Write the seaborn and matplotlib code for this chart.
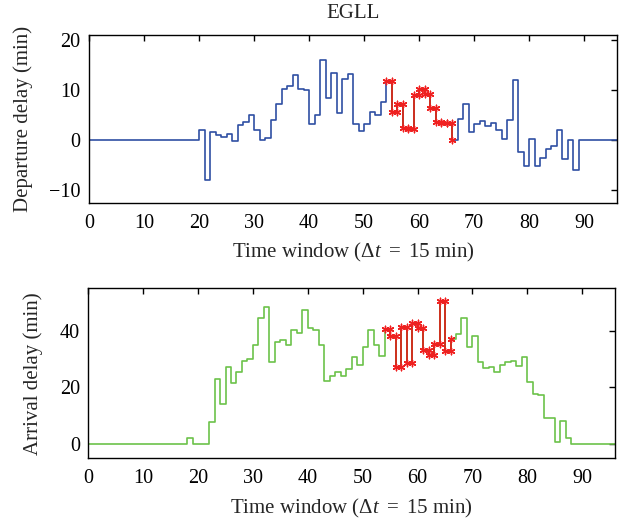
import numpy as np
import pandas as pd
import matplotlib
matplotlib.use("Agg")
import matplotlib.pyplot as plt
import seaborn as sns

sns.set_theme(style="white")
plt.rcParams['font.family'] = ['Liberation Serif', 'DejaVu Serif']
plt.rcParams['mathtext.fontset'] = 'custom'
plt.rcParams['mathtext.rm'] = 'Liberation Serif'
plt.rcParams['mathtext.it'] = 'Liberation Serif:italic'

# ---- data (one value per 15-min time window, 0..95) ----
departure_delay = [0]*20 + [
    2.0, -8.0, 1.5, 0.9, 0.45, 1.2, -0.3, 2.9, 3.5, 4.9,
    2.0, 0.0, 0.3, 3.9, 7.2, 10.2, 10.7, 12.9, 10.2, 10.0,
    3.2, 4.9, 16.0, 8.3, 13.3, 5.3, 12.1, 13.1, 3.2, 1.7,
    3.2, 5.6, 4.9, 7.5, 11.7, 5.5, 7.2, 2.4, 2.2, 8.9,
    10.2, 9.2, 6.3, 3.5, 3.4, 3.4, 0.0, 4.1, 7.1, 1.5,
    3.1, 3.7, 2.7, 3.4, 2.0, 0.2, 3.9, 11.9, -2.5, -5.3,
    0.1, -5.3, -3.6, -1.9, -1.2, 1.9, -3.9, 0.0, -6.0] + [0]*7

arrival_delay = [0]*18 + [
    2.0, 0.0, 0.0, 0.0, 7.7, 22.9, 14.2, 27.1, 21.5, 25.5,
    29.4, 30.1, 34.8, 44.4, 48.3, 28.9, 35.9, 36.6, 34.8, 40.1,
    39.2, 47.4, 41.0, 40.1, 34.8, 22.4, 24.1, 25.4, 24.1, 26.4,
    30.7, 28.0, 34.4, 40.1, 34.8, 31.0, 40.6, 38.0, 27.3, 41.3,
    28.6, 42.7, 41.0, 33.3, 31.5, 35.4, 50.4, 32.9, 37.1, 38.8,
    44.5, 34.4, 38.3, 29.1, 26.8, 27.1, 25.5, 28.0, 29.0, 29.4,
    27.6, 30.9, 21.9, 17.7, 17.2, 9.1, 9.1, 0.7, 8.1, 2.0] + [0]*8

highlight_start, highlight_end = 54, 66   # highlighted windows (inclusive)

x_ticks = list(range(0, 100, 10))
dep_yticks = [-10, 0, 10, 20]
arr_yticks = [0, 20, 40]

title = "EGLL"
xlabel = r"Time window ($\Delta t$ $=$ 15 min)"
dep_label = "Departure delay (min)"
arr_label = "Arrival delay (min)"

BLUE = "#2f4fa3"
GREEN = "#6cc24a"
RED_LINE = "#d0301f"
RED_MARK = "#f02020"
FS = 14.5


def stairs_frame(values):
    n = len(values)
    x = np.arange(n + 1)
    y = np.append(values, values[-1])
    return pd.DataFrame({"x": x, "y": y})


def highlight_frames(values):
    idx = np.arange(highlight_start, highlight_end + 1)
    vals = np.asarray(values, dtype=float)[idx]
    line = pd.DataFrame({"x": idx, "y": vals})
    # stair vertices: both corners of each step
    vx = [idx[0]]
    vy = [vals[0]]
    for i in range(1, len(idx)):
        vx += [idx[i], idx[i]]
        vy += [vals[i - 1], vals[i]]
    pts = pd.DataFrame({"x": vx, "y": vy})
    return line, pts


def draw(ax, values, color, ylim, yticks, ylabel):
    df = stairs_frame(values)
    sns.lineplot(data=df, x="x", y="y", ax=ax, color=color, lw=1.2,
                 drawstyle="steps-post", estimator=None, sort=False)
    line, pts = highlight_frames(values)
    sns.lineplot(data=line, x="x", y="y", ax=ax, color=RED_LINE, lw=1.4,
                 drawstyle="steps-post", estimator=None, sort=False)
    sns.scatterplot(data=pts, x="x", y="y", ax=ax, marker=(6, 2, 0),
                    color=RED_MARK, s=22, linewidth=1.0, edgecolor=RED_MARK,
                    zorder=5)
    ax.set_xlim(0, 96)
    ax.set_ylim(*ylim)
    ax.set_xticks(x_ticks)
    ax.set_yticks(yticks)
    ax.set_xlabel(xlabel, fontsize=15, labelpad=6)
    ax.set_ylabel(ylabel, fontsize=15, labelpad=12)
    ax.tick_params(direction="in", length=4, width=1, top=True, right=True,
                   labelsize=FS, colors="black")
    ax.tick_params(axis="x", pad=8)
    ax.tick_params(axis="y", pad=6)
    for s in ax.spines.values():
        s.set_visible(True)
        s.set_color("black")
        s.set_linewidth(1.0)


fig = plt.figure(figsize=(6.22, 5.2), dpi=100)
ax1 = fig.add_axes([0.1431, 0.6096, 0.849, 0.323])
ax2 = fig.add_axes([0.142, 0.1187, 0.847, 0.327])

draw(ax1, departure_delay, BLUE, (-12.7, 20.9), dep_yticks, dep_label)
draw(ax2, arrival_delay, GREEN, (-5, 55), arr_yticks, arr_label)
ax1.set_title(title, fontsize=15, pad=12)

fig.savefig("out.png", dpi=100)
